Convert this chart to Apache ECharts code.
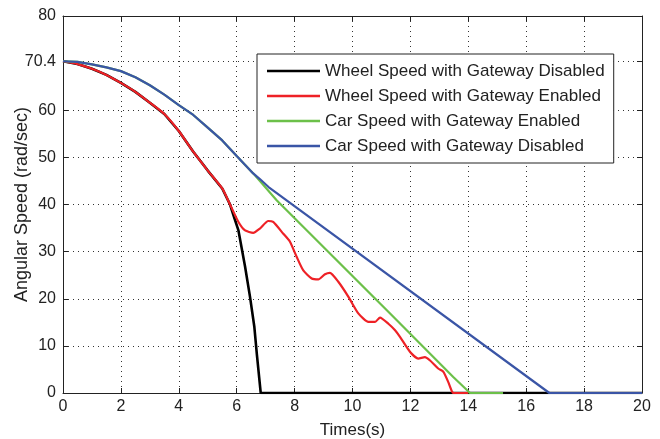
<!DOCTYPE html>
<html><head><meta charset="utf-8">
<script src="https://cdn.jsdelivr.net/npm/echarts@6/dist/echarts.min.js"></script>
<style>html,body{margin:0;padding:0;background:#fff}#c{width:660px;height:439px}</style>
</head><body><div id="c"></div>
<script>
const seriesNames = [
  'Wheel Speed with Gateway Disabled',
  'Wheel Speed with Gateway Enabled',
  'Car Speed with Gateway Enabled',
  'Car Speed with Gateway Disabled'
];
const wheelOffT = [0, 0.5, 1, 1.5, 2, 2.5, 3, 3.5, 4, 4.5, 5, 5.5, 5.77, 5.9, 6.06, 6.29, 6.46, 6.61, 6.7, 6.83, 20];
const wheelOffV = [70.4, 69.8, 68.8, 67.5, 65.8, 63.9, 61.6, 59.2, 55.6, 51.2, 47.2, 43.4, 40.0, 37.5, 34.5, 26.8, 20.4, 14.0, 8.0, 0, 0];
const wheelOnT = [0, 0.5, 1, 1.5, 2, 2.5, 3, 3.5, 4, 4.5, 5, 5.5, 5.77, 6.06, 6.29, 6.57, 6.8, 7.09, 7.26, 7.61, 7.84, 8.07, 8.3, 8.59, 8.82, 9.05, 9.22, 9.51, 9.86, 10.2, 10.55, 10.78, 10.95, 11.24, 11.47, 11.64, 11.99, 12.27, 12.5, 12.68, 12.96, 13.14, 13.31, 13.43, 13.48, 14.0];
const wheelOnV = [70.4, 69.8, 68.8, 67.5, 65.8, 63.9, 61.6, 59.2, 55.6, 51.2, 47.2, 43.4, 40.0, 36.3, 34.5, 34.0, 34.9, 36.5, 36.3, 33.8, 32.1, 28.9, 26.0, 24.3, 24.1, 25.2, 25.5, 23.6, 20.4, 16.9, 15.1, 15.1, 16.0, 14.7, 13.3, 11.9, 8.7, 7.3, 7.6, 6.9, 5.2, 4.5, 2.3, 0.4, 0, 0];
const carOnT = [0, 0.5, 1, 1.5, 2, 2.5, 3, 3.5, 4, 4.5, 5, 5.5, 6, 6.57, 7.38, 11.47, 13.48, 14.06, 15.2];
const carOnV = [70.4, 70.25, 69.75, 69.1, 68.3, 67.0, 65.3, 63.3, 61.1, 59.0, 56.3, 53.6, 50.3, 46.6, 40.9, 15.8, 3.4, 0, 0];
const carOffT = [0, 0.5, 1, 1.5, 2, 2.5, 3, 3.5, 4, 4.5, 5, 5.5, 6, 6.57, 6.8, 7.1, 16.8, 20];
const carOffV = [70.4, 70.25, 69.75, 69.1, 68.3, 67.0, 65.3, 63.3, 61.1, 59.0, 56.3, 53.6, 50.3, 46.6, 45.4, 43.7, 0, 0];
const xTicks = [0, 2, 4, 6, 8, 10, 12, 14, 16, 18, 20];
const yTicks = [0, 10, 20, 30, 40, 50, 60, 70.4, 80];
const colors = ['#000000', '#ee2126', '#6cc049', '#3a55a6'];

const FONT = "'Liberation Sans', Arial, sans-serif";
function pairs(t, v) { return t.map((x, i) => [x, v[i]]); }
const chart = echarts.init(document.getElementById('c'), null, {renderer: 'canvas'});
const frameColor = '#222';
const dotted = {color: '#333', type: [1, 4], width: 1};
const baseX = {
  type: 'value', min: 0, max: 20, interval: 2,
  axisLine: {show: true, onZero: false, lineStyle: {color: frameColor, width: 1}},
  axisTick: {show: true, inside: true, length: 5, customValues: xTicks, lineStyle: {color: frameColor}},
  splitLine: {show: false}
};
const baseY = {
  type: 'value', min: 0, max: 80,
  axisLine: {show: true, onZero: false, lineStyle: {color: frameColor, width: 1}},
  axisTick: {show: true, inside: true, length: 5, customValues: yTicks, lineStyle: {color: frameColor}},
  splitLine: {show: false}
};
const datasets = [[wheelOffT, wheelOffV], [wheelOnT, wheelOnV], [carOnT, carOnV], [carOffT, carOffV]];
chart.setOption({
  animation: false,
  backgroundColor: '#ffffff',
  textStyle: {fontFamily: FONT},
  grid: {left: 63, right: 18, top: 16, bottom: 46, containLabel: false, outerBoundsMode: 'none'},
  legend: {
    orient: 'vertical', left: 257, top: 54,
    data: seriesNames.map((n, i) => ({name: n, itemStyle: {color: colors[i]}})),
    icon: 'rect',
    backgroundColor: '#ffffff', borderColor: '#222', borderWidth: 1,
    padding: [8, 9, 8, 10],
    itemWidth: 53, itemHeight: 2.5, itemGap: 7,
    textStyle: {fontFamily: FONT, fontSize: 17, color: '#222', lineHeight: 18},
    selectedMode: false
  },
  xAxis: [
    Object.assign({}, baseX, {
      position: 'bottom',
      name: 'Times(s)', nameLocation: 'middle', nameGap: 29, nameMoveOverlap: false,
      nameTextStyle: {fontFamily: FONT, fontSize: 17, color: '#222'},
      axisLabel: {show: true, margin: 6, fontFamily: FONT, fontSize: 16, color: '#222'},
      splitLine: {show: true, lineStyle: dotted}
    }),
    Object.assign({}, baseX, {position: 'top', axisLabel: {show: false}})
  ],
  yAxis: [
    Object.assign({}, baseY, {
      position: 'left',
      name: 'Angular Speed (rad/sec)', nameLocation: 'middle', nameGap: 32, nameMoveOverlap: false,
      nameTextStyle: {fontFamily: FONT, fontSize: 18, color: '#222'},
      axisLabel: {show: true, margin: 7, customValues: yTicks, fontFamily: FONT, fontSize: 16, color: '#222'},
      splitLine: {show: true, lineStyle: dotted}
    }),
    Object.assign({}, baseY, {position: 'right', axisLabel: {show: false}})
  ],
  series: datasets.map((d, i) => ({
    name: seriesNames[i],
    type: 'line',
    xAxisIndex: 0, yAxisIndex: 0,
    data: pairs(d[0], d[1]),
    showSymbol: false, symbol: 'none',
    smooth: i === 1 ? 0.2 : false,
    lineStyle: {color: colors[i], width: i === 0 ? 2.6 : 2.2},
    itemStyle: {color: colors[i]},
    z: 2 + i
  }))
});
</script></body></html>
